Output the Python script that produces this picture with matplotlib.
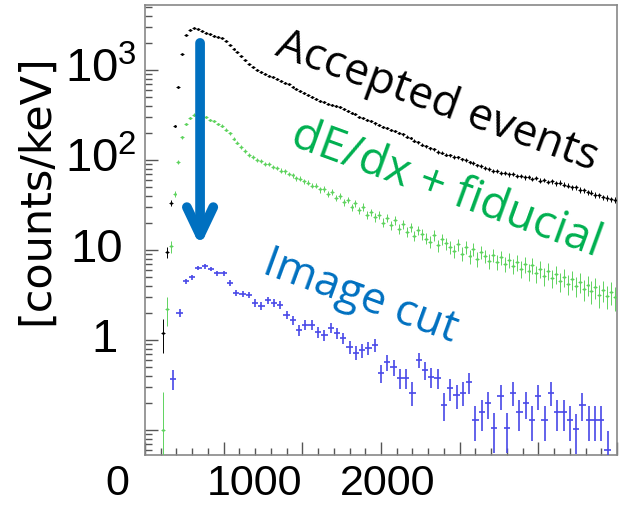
import numpy as np
import matplotlib
matplotlib.use('Agg')
import matplotlib.pyplot as plt
from matplotlib.ticker import MultipleLocator, LogLocator, NullFormatter

plt.rcParams['mathtext.fontset'] = 'custom'
plt.rcParams['mathtext.rm'] = 'Liberation Sans'
plt.rcParams['mathtext.it'] = 'Liberation Sans'

# bin centres [keV]
black_e = np.arange(112.5, 3000, 25)
green_e = np.arange(112.5, 3000, 25)
blue_e = np.arange(180, 2960, 40)

# counts/keV
black_v = [1.2, 9.5, 33, 240, 650, 1500, 2450, 2800, 2930, 2860,
           2720, 2610, 2500, 2410, 2340, 2260, 2110, 1900, 1730, 1570,
           1420, 1280, 1165, 1070, 1000, 950, 908, 868, 842, 798,
           763, 722, 693, 652, 622, 583, 552, 521, 498, 476,
           454, 440, 424, 413, 397, 389, 368, 354, 333, 321,
           303, 294, 279, 270, 255, 246, 234, 227, 217, 211,
           199, 193, 182, 175, 164, 158, 148, 142, 135, 131,
           123, 121, 115, 113, 108, 107, 102, 100, 94, 92,
           87, 86, 81, 80, 76, 75, 72, 72, 69, 70,
           67, 67, 64, 65, 62, 63, 59, 60, 57, 58,
           55, 56, 53, 52, 50, 49.5, 46.5, 46, 44, 43.5,
           41, 40.5, 38.5, 38, 36.5, 36]
green_v = [0.1, 2.2, 11, 42, 95, 180, 250, 295, 320, 324,
           308, 298, 280, 270, 252, 240, 218, 197, 173, 156,
           139, 126, 114, 108, 99, 97, 91, 90, 84, 82,
           76, 75, 70, 68, 63, 62, 58, 56, 52, 52,
           47, 48, 42, 44, 38, 40, 34, 36, 30, 33,
           27.5, 30.1, 24.6, 26.2, 23.0, 24.4, 20.2, 22.8, 19.0, 21.4,
           17.1, 19.4, 15.9, 18.0, 14.4, 16.6, 14.9, 13.4, 12.4, 14.6,
           11.3, 13.2, 11.9, 10.8, 9.7, 11.6, 9.1, 10.8, 8.5, 10.2,
           8.0, 9.6, 8.6, 7.6, 8.8, 7.4, 8.3, 7.0, 7.8, 6.7,
           7.3, 6.2, 6.9, 5.8, 6.8, 5.5, 6.2, 5.2, 5.9, 4.9,
           5.4, 4.5, 5.0, 4.2, 4.7, 4.0, 4.4, 3.7, 4.1, 3.5,
           3.9, 3.2, 3.6, 3.1, 3.4, 3.0]
blue_v = [0.37, 2.0, 4.5, 5.0, 6.3, 6.6, 6.15, 5.55, 5.55, 4.3,
          3.33, 3.25, 3.16, 2.58, 2.39, 2.78, 2.58, 2.45, 1.90, 1.67,
          1.29, 1.47, 1.47, 1.23, 1.14, 1.36, 1.20, 1.05, 0.84, 0.72,
          0.77, 0.81, 0.88, 0.43, 0.57, 0.50, 0.38, 0.38, 0.26, 0.60,
          0.46, 0.39, 0.38, 0.19, 0.29, 0.245, 0.26, 0.34, 0.13, 0.158,
          0.20, 0.105, 0.24, 0.105, 0.26, 0.158, 0.20, 0.13, 0.24, 0.13,
          0.26, 0.158, 0.158, 0.13, 0.103, 0.19, 0.13, 0.13, 0.13, 0.06]

ytick_vals = [1000, 100, 10, 1]
ytick_text = ['$10^3$', '$10^2$', '10', '1']
xtick_text = ['0', '1000', '2000']


def poisson_err(values, width, exposure):
    v = np.array(values)
    n = v * width * exposure
    return np.sqrt(n) / (width * exposure)


fig = plt.figure(figsize=(6.25, 5.12), dpi=100)
ax = fig.add_axes([145 / 625, 57 / 512, 472 / 625, 450 / 512])

ax.errorbar(black_e, black_v, xerr=12.5, yerr=poisson_err(black_v, 25, 0.2),
            fmt='.', ms=2, color='black', elinewidth=0.7, capsize=0, zorder=3)
ax.errorbar(green_e, green_v, xerr=12.5, yerr=poisson_err(green_v, 25, 0.15),
            fmt='.', ms=2, color='#5fd35f', elinewidth=0.7, capsize=0, zorder=3)
ax.errorbar(blue_e, blue_v, xerr=20, yerr=poisson_err(blue_v, 40, 1.1),
            fmt='none', color='#4848e8', elinewidth=1.2, capsize=0, zorder=4)

ax.set_xlim(0, 3000)
ax.set_yscale('log')
ax.set_ylim(0.0527, 5275)

ax.xaxis.set_major_locator(MultipleLocator(500))
ax.xaxis.set_minor_locator(MultipleLocator(100))
ax.yaxis.set_major_locator(LogLocator(base=10))
ax.yaxis.set_minor_locator(LogLocator(base=10, subs=np.arange(2, 10)))
ax.yaxis.set_minor_formatter(NullFormatter())
ax.tick_params(which='both', direction='in', colors='#555555', width=1,
               labelbottom=False, labelleft=False)
ax.tick_params(which='major', length=9.5)
ax.tick_params(which='minor', length=5)
for s in ax.spines.values():
    s.set_color('#888888')
    s.set_linewidth(1.2)

# tick labels as on the slide
ylab_x = [-0.017, -0.017, -0.047, -0.057]
for v, t, xx in zip(ytick_vals, ytick_text, ylab_x):
    ax.text(xx, v, t, transform=ax.get_yaxis_transform(), ha='right', va='center',
            fontsize=34, family='Liberation Sans')
xlab_x = [-0.059, 0.233, 0.515]
for xx, t in zip(xlab_x, xtick_text):
    ax.text(xx, -0.064, t, transform=ax.transAxes, ha='center', va='center',
            fontsize=31, family='Liberation Sans')

fig.text(36 / 625, 1 - 190 / 512, '[counts/keV]', rotation=90, fontsize=31,
         ha='center', va='center')

fig.text(437 / 625, 1 - 102 / 512, 'Accepted events', rotation=-20, rotation_mode='anchor',
         ha='center', va='center', fontsize=32, family='Open Sans', color='black')
fig.text(446 / 625, 1 - 190 / 512, 'dE/dx + fiducial', rotation=-20, rotation_mode='anchor',
         ha='center', va='center', fontsize=33, family='Open Sans', color='#00b050')
fig.text(360 / 625, 1 - 297 / 512, 'Image cut', rotation=-20, rotation_mode='anchor',
         ha='center', va='center', fontsize=32, family='Open Sans', color='#0070c0')

ax.annotate('', xy=(350, 11), xytext=(350, 2000),
            arrowprops=dict(arrowstyle='->,head_length=2.0,head_width=0.95', lw=7,
                            color='#0070c0', shrinkA=0, shrinkB=0), zorder=6)

plt.savefig('out.png', dpi=100)
